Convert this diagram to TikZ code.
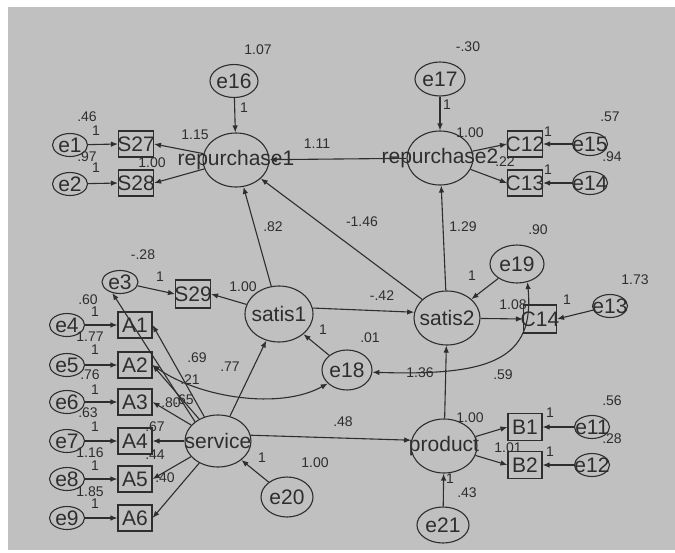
\documentclass[tikz,border=0pt]{standalone}
\usepackage{fontspec}
\setmainfont{Liberation Sans}
\usetikzlibrary{arrows.meta,shapes.geometric}
\definecolor{amosBack}{HTML}{C0C0C0}
\definecolor{amosInk}{HTML}{2E2E2E}
\newcommand{\nodefont}{\fontsize{21}{21}\selectfont}
\newcommand{\numfont}{\fontsize{14}{14}\selectfont}

\begin{document}
\begin{tikzpicture}[x=1pt,y=-1pt,
  txt/.style={font=\nodefont, text=amosInk, inner sep=0pt},
  lat/.style={ellipse, draw=amosInk, line width=1.1pt, inner sep=0pt, minimum width=66pt, minimum height=54pt, label={[txt]center:#1}},
  err/.style={ellipse, draw=amosInk, line width=1.1pt, inner sep=0pt, minimum width=35pt, minimum height=23pt, label={[txt]center:#1}},
  obs/.style={rectangle, draw=amosInk, line width=1.1pt, inner sep=0pt, minimum width=35pt, minimum height=26pt, label={[txt]center:#1}},
  pth/.style={draw=amosInk, line width=1.1pt, -{Latex[length=7pt,width=5.5pt]}},
  cov/.style={draw=amosInk, line width=1.1pt, {Latex[length=7pt,width=5.5pt]}-{Latex[length=7pt,width=5.5pt]}},
  num/.style={font=\numfont, text=amosInk, inner sep=0pt}]
  \useasboundingbox (0,0) rectangle (675,552);
  \fill[white] (0,0) rectangle (675,552);
  \fill[amosBack] (8,7) rectangle (675,550);

  \node[lat=repurchase1] (rep1) at (236,160) {};
  \node[lat=repurchase2] (rep2) at (440,158) {};
  \node[lat=satis1, minimum width=68pt, minimum height=56pt] (sat1) at (279,314) {};
  \node[lat=satis2] (sat2) at (447,318) {};
  \node[lat=service, minimum height=52pt] (serv) at (218,441) {};
  \node[lat=product] (prod) at (444,446) {};

  \node[err=e16, minimum width=48pt, minimum height=33pt] (e16) at (234,81) {};
  \node[err=e17, minimum width=50pt, minimum height=34pt] (e17) at (440,79) {};
  \node[err=e1] (e1) at (70,145) {};
  \node[err=e2] (e2) at (70,184) {};
  \node[err=e15] (e15) at (590,144) {};
  \node[err=e14] (e14) at (590,183) {};
  \node[err=e3, minimum width=36pt] (e3) at (120,282) {};
  \node[err=e19, minimum width=54pt, minimum height=38pt] (e19) at (517,264) {};
  \node[err=e13] (e13) at (610,306) {};
  \node[err=e18, minimum width=50pt, minimum height=40pt] (e18) at (347,370) {};
  \node[err=e20, minimum width=52pt, minimum height=40pt] (e20) at (287,497) {};
  \node[err=e21, minimum width=52pt, minimum height=36pt] (e21) at (443,525) {};
  \node[err=e11] (e11) at (592,427) {};
  \node[err=e12] (e12) at (592,465) {};

  \node[obs=S27] (S27) at (136,144) {};
  \node[obs=S28] (S28) at (136,183) {};
  \node[obs=C12] (C12) at (525,144) {};
  \node[obs=C13] (C13) at (525,183) {};
  \node[obs=S29, minimum height=28pt] (S29) at (193,294) {};
  \node[obs=C14, minimum width=33pt, minimum height=28pt] (C14) at (540,319) {};
  \node[obs=B1, minimum width=34pt, minimum height=27pt] (B1) at (525,427) {};
  \node[obs=B2, minimum width=34pt, minimum height=27pt] (B2) at (525,465) {};

  \foreach \i/\ey/\en in {1/325/4, 2/365/5, 3/402/6, 4/441/7, 5/479/8, 6/518/9} {
    \node[obs=A\i, minimum width=34pt] (A\i) at (135,\ey) {};
    \node[err=e\en] (e\en) at (67,\ey) {};
    \draw[pth] (e\en) -- (A\i.west);
    \draw[pth] (serv) -- (A\i.east);
  }

  \draw[pth] (e16) -- (rep1);
  \draw[pth] (e17) -- (rep2);
  \draw[pth] (e1) -- (S27.west);
  \draw[pth] (e2) -- (S28.west);
  \draw[pth] (rep1) -- (S27.east);
  \draw[pth] (rep1) -- (S28.east);
  \draw[pth] (e15) -- (C12.east);
  \draw[pth] (e14) -- (C13.east);
  \draw[pth] (rep2) -- (C12.west);
  \draw[pth] (rep2) -- (C13.west);
  \draw[pth] (rep2) -- (rep1);
  \draw[pth] (sat1) -- (rep1);
  \draw[pth] (sat2) -- (rep1);
  \draw[pth] (sat2) -- (rep2);
  \draw[pth] (e3) -- (S29.west);
  \draw[pth] (sat1) -- (S29.east);
  \draw[pth] (sat1.10) -- (sat2.170);
  \draw[pth] (e19) -- (sat2);
  \draw[pth] (sat2) -- (C14.west);
  \draw[pth] (e13) -- (C14.east);
  \draw[pth] (e18) -- (sat1);
  \draw[pth] (serv) -- (sat1);
  \draw[pth] (serv.140) -- (e3.235);
  \draw[pth] (e20) -- (serv);
  \draw[pth] (serv.10) -- (prod.170);
  \draw[pth] (prod) -- (sat2);
  \draw[pth] (e21) -- (prod);
  \draw[pth] (prod) -- (B1.west);
  \draw[pth] (prod) -- (B2.west);
  \draw[pth] (e11) -- (B1.east);
  \draw[pth] (e12) -- (B2.east);
  \draw[cov] (A2.east) .. controls (200,398) and (280,410) .. (e18.215);
  \draw[cov] (e18.355) .. controls (490,376) and (535,360) .. (e19.300);

  \foreach [count=\k] \px/\py/\val in {258/50/1.07, 244/108/1, 195/135/1.15, 152/163/1.00,
      87/117/.46, 96/131/1, 87/157/.97, 96/168/1, 317/144/1.11, 468/47/-.30, 447/105/1,
      470/133/1.00, 505/162/.22, 548/132/1, 548/170/1, 610/117/.57, 612/157/.94,
      273/227/.82, 362/222/-1.46, 463/227/1.29, 538/230/.90, 143/255/-.28, 160/277/1,
      243/287/1.00, 88/300/.60, 95/312/1, 90/337/1.77, 95/350/1, 90/375/.76, 95/390/1,
      88/413/.63, 95/427/1, 90/453/1.16, 95/466/1, 90/492/1.85, 95/504/1, 197/358/.69,
      230/367/.77, 190/380/.21, 171/403/.80, 184/400/.65, 155/427/.67, 155/455/.44,
      165/478/.40, 323/330/1, 370/338/.01, 382/296/-.42, 472/276/1, 513/305/1.08,
      635/280/1.73, 567/300/1, 420/373/1.36, 503/375/.59, 343/422/.48, 470/418/1.00,
      550/413/1, 550/452/1, 508/448/1.01, 612/401/.56, 612/439/.28, 262/458/1,
      315/463/1.00, 450/479/1, 467/493/.43}
    \node[num] (lbl\k) at (\px,\py) {\val};
\end{tikzpicture}
\end{document}
